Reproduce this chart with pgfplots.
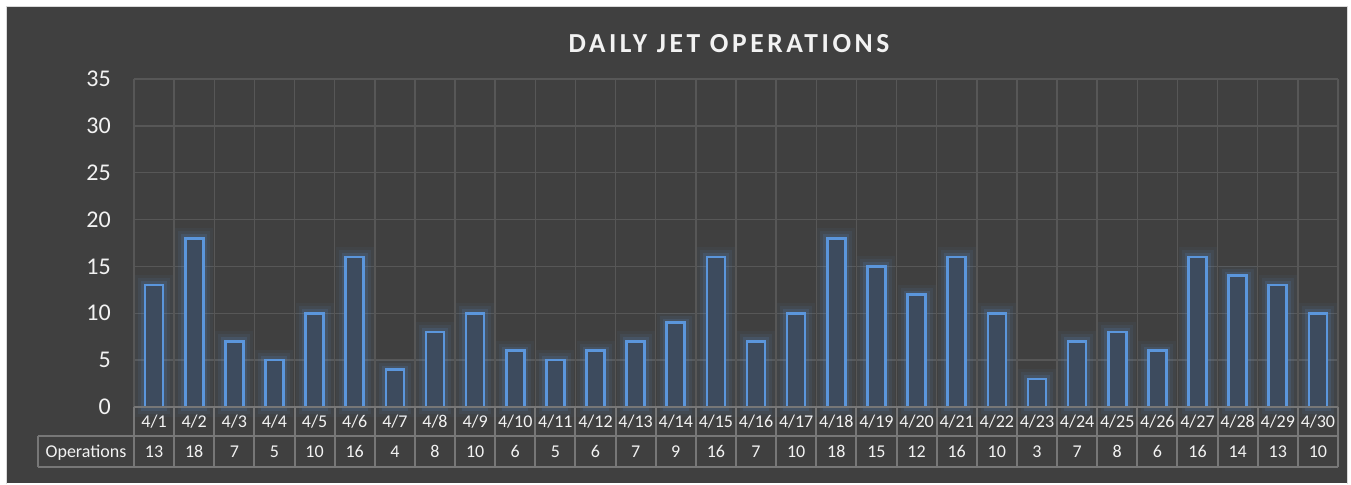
\documentclass[border=0pt]{standalone}
\usepackage{fontspec}
\setmainfont{Carlito}
\usepackage{pgfplots}
\usepackage{pgfplotstable}
\pgfplotsset{compat=1.18}
\definecolor{bgc}{HTML}{404040}
\definecolor{gridc}{HTML}{575757}
\definecolor{tabc}{HTML}{777777}
\definecolor{txt}{HTML}{F2F2F2}
\definecolor{barline}{HTML}{5B96DC}
\definecolor{barfill}{HTML}{3D4B5E}
\pgfplotstableread{
day ops
1 13
2 18
3 7
4 5
5 10
6 16
7 4
8 8
9 10
10 6
11 5
12 6
13 7
14 9
15 16
16 7
17 10
18 18
19 15
20 12
21 16
22 10
23 3
24 7
25 8
26 6
27 16
28 14
29 13
30 10
}\data
\begin{document}
\begin{tikzpicture}
\fill[white] (0pt,0pt) rectangle (1351pt,483pt);
\fill[bgc] (7pt,0pt) rectangle (1347pt,476pt);
\draw[color=black!15, line width=1pt] (6.5pt,-1pt) -- (6.5pt,476.5pt) -- (1347.5pt,476.5pt) -- (1347.5pt,-1pt);
\node[txt, anchor=base, inner sep=0pt, font={\fontsize{27.5}{32}\selectfont\bfseries\addfontfeatures{LetterSpace=13}}] at (729pt,430pt) {DAILY JET OPERATIONS};
\begin{axis}[
  at={(134pt,76pt)}, anchor=south west,
  scale only axis, width=1204pt, height=328pt,
  xmin=0.5, xmax=30.5, ymin=0, ymax=35,
  ytick={0,5,...,35},
  xtick={1,...,30},
  xticklabels={4/1,4/2,4/3,4/4,4/5,4/6,4/7,4/8,4/9,4/10,4/11,4/12,4/13,4/14,4/15,4/16,4/17,4/18,4/19,4/20,4/21,4/22,4/23,4/24,4/25,4/26,4/27,4/28,4/29,4/30},
  minor xtick={0.5,1.5,...,30.5},
  xminorgrids, ymajorgrids, xmajorgrids=false,
  grid style={color=gridc, line width=1.5pt},
  minor grid style={color=gridc, line width=1.5pt},
  axis line style={draw=none},
  major tick length=0pt, minor tick length=0pt,
  tick style={draw=none},
  /pgf/number format/assume math mode=true,
  yticklabel style={anchor=east, inner sep=0pt, xshift=-23pt, color=txt, font=\fontsize{24}{28}\selectfont},
  xticklabel style={anchor=base, inner sep=0pt, yshift=-20.7pt, color=txt, font=\fontsize{18}{21}\selectfont},
  clip=false,
]
\addplot[ybar, bar shift=0pt, bar width=18pt, draw=barline, draw opacity=0.05, line width=20pt, fill=none] table[x=day, y=ops] {\data};
\addplot[ybar, bar shift=0pt, bar width=18pt, draw=barline, draw opacity=0.08, line width=14pt, fill=none] table[x=day, y=ops] {\data};
\addplot[ybar, bar shift=0pt, bar width=18pt, draw=barline, draw opacity=0.14, line width=8pt, fill=none] table[x=day, y=ops] {\data};
\addplot[ybar, bar shift=0pt, bar width=18pt, draw=barline, line width=2.6pt, fill=barfill] table[x=day, y=ops] {\data};
\addplot[draw=none, mark=none, nodes near coords, point meta=\thisrow{ops},
  every node near coord/.append style={anchor=base, inner sep=0pt, yshift=-50.2pt, color=txt, font=\fontsize{18}{21}\selectfont}]
  table[x=day, y expr=0] {\data};
\end{axis}
% data table grid
\begin{scope}[tabc, line width=2pt]
\draw (134pt,76pt) -- (1338pt,76pt);
\draw (38pt,47pt) -- (1338pt,47pt);
\draw (38pt,16pt) -- (1338pt,16pt);
\draw (38pt,16pt) -- (38pt,47pt);
\foreach \k in {0,...,30} { \draw ({134pt+40.1333pt*\k},16pt) -- ({134pt+40.1333pt*\k},76pt); }
\end{scope}
\node[txt, anchor=base, inner sep=0pt, font=\fontsize{18}{21}\selectfont] at (86pt,26pt) {Operations};
\end{tikzpicture}
\end{document}
